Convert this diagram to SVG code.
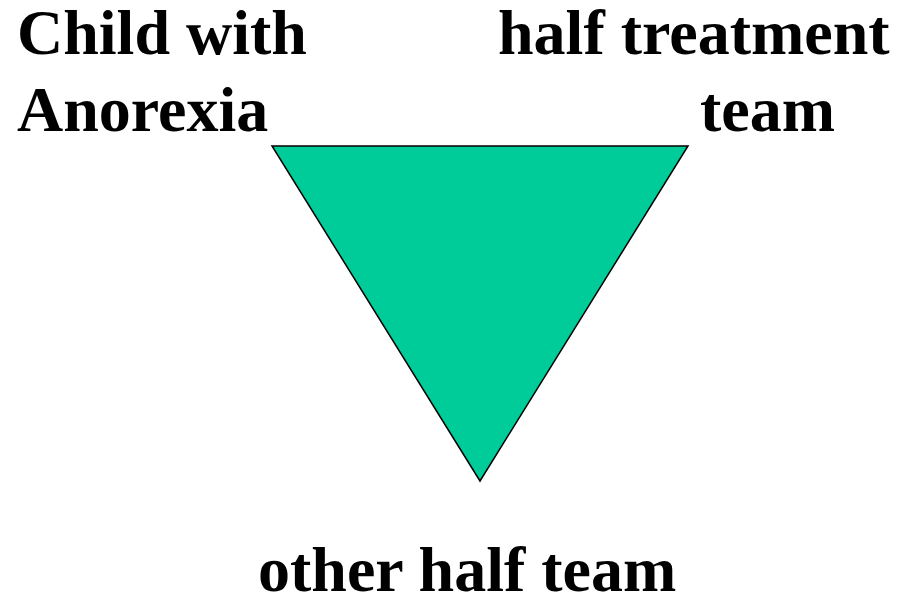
<svg xmlns="http://www.w3.org/2000/svg" width="909" height="595" viewBox="0 0 909 595">
<style>
.lbl{font-family:"Liberation Serif","Times New Roman",serif;font-weight:bold;font-size:64px;fill:#000}
</style>
<rect width="909" height="595" fill="#fff"/>
<g id="triangle">
<polygon points="272,146 688,146 480,481" fill="#00CC99" stroke="#000" stroke-width="1.5"/>
</g>
<g id="child">
<text class="lbl" x="17" y="54">Child with</text>
<text class="lbl" x="17" y="131">Anorexia</text>
</g>
<g id="half-team">
<text class="lbl" x="498" y="54">half treatment</text>
<text class="lbl" x="700" y="131">team</text>
</g>
<g id="other-half">
<text class="lbl" x="258" y="591">other half team</text>
</g>
<g id="connectors"></g>
</svg>
